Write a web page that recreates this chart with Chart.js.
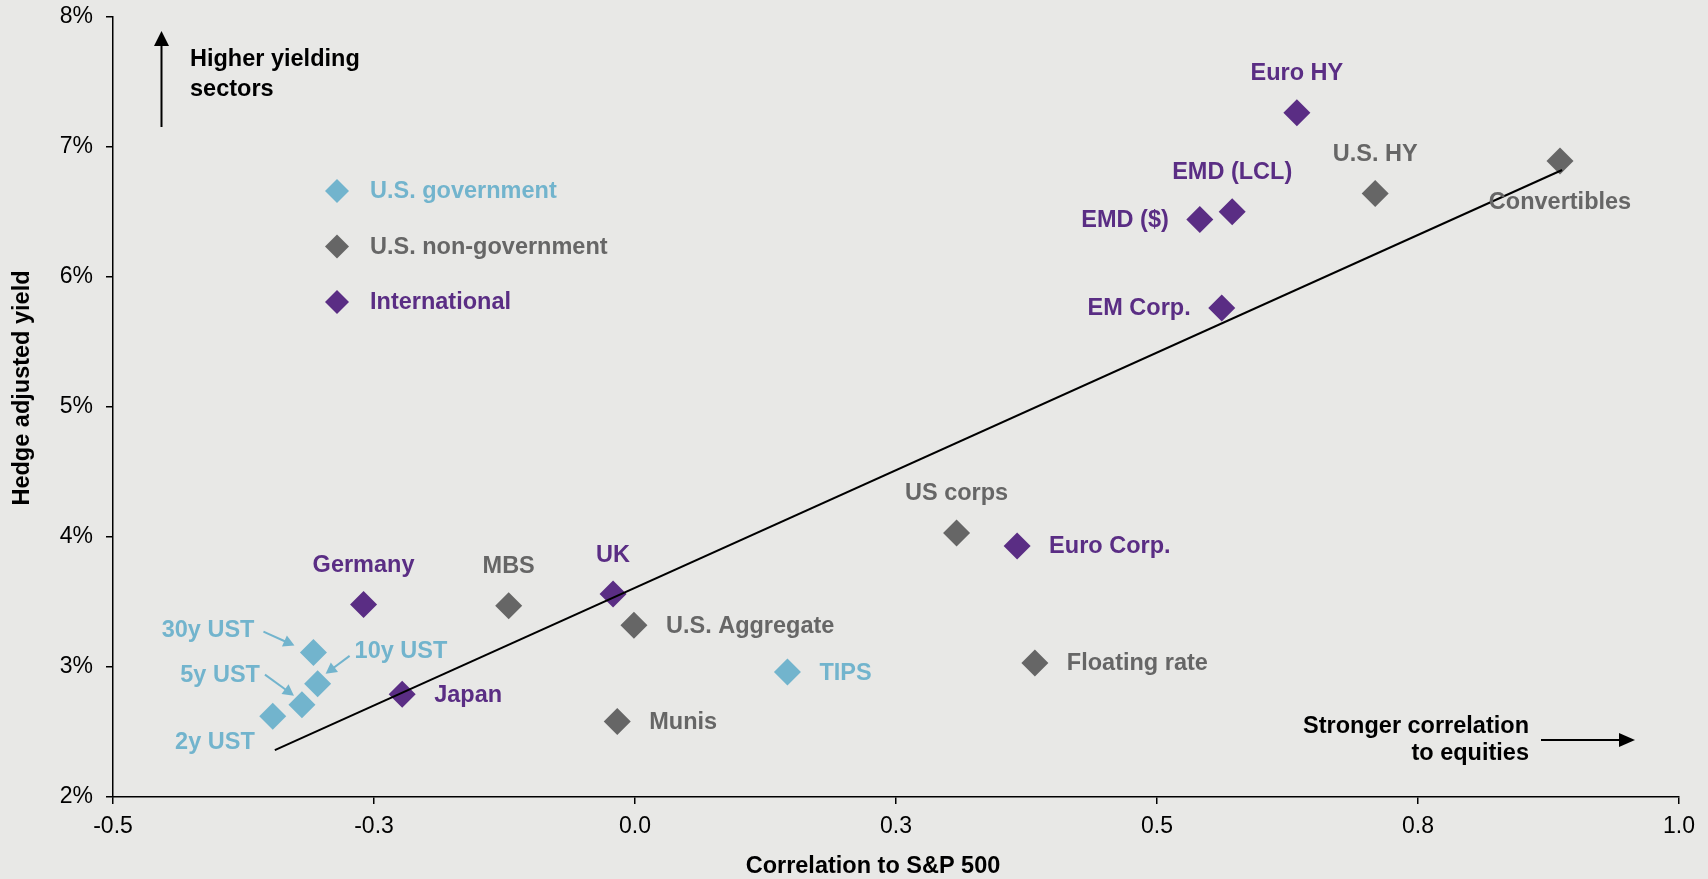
<!DOCTYPE html>
<html>
<head>
<meta charset="utf-8">
<script src="https://cdn.jsdelivr.net/npm/chart.js@4.4.1/dist/chart.umd.min.js"></script>
<style>
  html, body { margin: 0; padding: 0; background: #e8e8e6; }
  canvas { display: block; }
</style>
</head>
<body>
<canvas id="chart" width="1708" height="879"></canvas>
<script>
// sector data: correlation to S&P 500 vs hedge adjusted yield (%)
const govNames = ['30y UST', '10y UST', '5y UST', '2y UST', 'TIPS'];
const govCorr = [-0.308, -0.304, -0.319, -0.347, 0.146];
const govYield = [3.11, 2.87, 2.71, 2.62, 2.96];

const usNames = ['MBS', 'U.S. Aggregate', 'Munis', 'US corps', 'Floating rate', 'U.S. HY', 'Convertibles'];
const usCorr = [-0.121, -0.001, -0.017, 0.308, 0.383, 0.709, 0.886];
const usYield = [3.47, 3.32, 2.58, 4.03, 3.03, 6.64, 6.89];

const intlNames = ['Germany', 'Japan', 'UK', 'Euro Corp.', 'EM Corp.', 'EMD ($)', 'EMD (LCL)', 'Euro HY'];
const intlCorr = [-0.260, -0.223, -0.021, 0.366, 0.562, 0.541, 0.572, 0.634];
const intlYield = [3.48, 2.79, 3.56, 3.93, 5.76, 6.44, 6.50, 7.26];

const trendCorr = [-0.345, 0.888];
const trendYield = [2.36, 6.82];

const xTickLabels = ['-0.5', '-0.3', '0.0', '0.3', '0.5', '0.8', '1.0'];
const yTickLabels = ['2%', '3%', '4%', '5%', '6%', '7%', '8%'];

const seriesNames = ['U.S. government', 'U.S. non-government', 'International'];
const seriesColors = ['#72b4cd', '#666666', '#5a2d84'];

const FONT = "'Liberation Sans', Arial, sans-serif";

// where each point label sits, relative to its marker (px)
const TOP = { dx: 0, dy: -39, align: 'center' };
const LEFT = { dx: -31, dy: 1, align: 'right' };
const RIGHT = { dx: 32, dy: 1, align: 'left' };
const labelPos = {
  '30y UST': { dx: -59, dy: -22, align: 'right', arrow: [-50, -21, -19, -7] },
  '10y UST': { dx: 37, dy: -32, align: 'left', arrow: [32, -28, 8, -10] },
  '5y UST': { dx: -42, dy: -29, align: 'right', arrow: [-37, -30, -8, -9] },
  '2y UST': { dx: -18, dy: 26, align: 'right' },
  'TIPS': RIGHT,
  'MBS': TOP,
  'U.S. Aggregate': RIGHT,
  'Munis': RIGHT,
  'US corps': TOP,
  'Floating rate': RIGHT,
  'U.S. HY': TOP,
  'Convertibles': { dx: 0, dy: 42, align: 'center' },
  'Germany': TOP,
  'Japan': RIGHT,
  'UK': TOP,
  'Euro Corp.': RIGHT,
  'EM Corp.': LEFT,
  'EMD ($)': LEFT,
  'EMD (LCL)': TOP,
  'Euro HY': TOP
};

function toPoints(xs, ys) {
  return xs.map((x, i) => ({ x: x, y: ys[i] }));
}

function arrow(ctx, x1, y1, x2, y2, len, half) {
  const a = Math.atan2(y2 - y1, x2 - x1);
  ctx.beginPath();
  ctx.moveTo(x1, y1);
  ctx.lineTo(x2 - Math.cos(a) * len * 0.8, y2 - Math.sin(a) * len * 0.8);
  ctx.stroke();
  ctx.beginPath();
  ctx.moveTo(x2, y2);
  ctx.lineTo(x2 - Math.cos(a) * len + Math.sin(a) * half, y2 - Math.sin(a) * len - Math.cos(a) * half);
  ctx.lineTo(x2 - Math.cos(a) * len - Math.sin(a) * half, y2 - Math.sin(a) * len + Math.cos(a) * half);
  ctx.closePath();
  ctx.fill();
}

function diamond(ctx, x, y, r, color) {
  ctx.fillStyle = color;
  ctx.beginPath();
  ctx.moveTo(x, y - r);
  ctx.lineTo(x + r, y);
  ctx.lineTo(x, y + r);
  ctx.lineTo(x - r, y);
  ctx.closePath();
  ctx.fill();
}

const bgPlugin = {
  id: 'bg',
  beforeDraw(chart) {
    const ctx = chart.ctx;
    ctx.save();
    ctx.fillStyle = '#e8e8e6';
    ctx.fillRect(0, 0, chart.width, chart.height);
    ctx.restore();
  }
};

const annotPlugin = {
  id: 'annot',
  afterDatasetsDraw(chart) {
    const ctx = chart.ctx;
    ctx.save();
    ctx.font = 'bold 23.5px ' + FONT;
    ctx.textBaseline = 'middle';

    // point labels
    chart.data.datasets.forEach((ds, di) => {
      if (!ds.names) return;
      const meta = chart.getDatasetMeta(di);
      meta.data.forEach((pt, i) => {
        const name = ds.names[i];
        const p = labelPos[name] || RIGHT;
        ctx.fillStyle = ds.backgroundColor;
        ctx.strokeStyle = ds.backgroundColor;
        ctx.textAlign = p.align;
        ctx.fillText(name, pt.x + p.dx, pt.y + p.dy);
        if (p.arrow) {
          ctx.lineWidth = 2;
          arrow(ctx, pt.x + p.arrow[0], pt.y + p.arrow[1], pt.x + p.arrow[2], pt.y + p.arrow[3], 11, 6);
        }
      });
    });

    // legend
    seriesNames.forEach((name, i) => {
      const y = 191 + i * 55.5;
      diamond(ctx, 337, y, 12, seriesColors[i]);
      ctx.fillStyle = seriesColors[i];
      ctx.textAlign = 'left';
      ctx.fillText(name, 370, y + 1);
    });

    // direction notes
    ctx.fillStyle = '#000';
    ctx.strokeStyle = '#000';
    ctx.textBaseline = 'alphabetic';
    ctx.textAlign = 'left';
    ctx.fillText('Higher yielding', 190, 66);
    ctx.fillText('sectors', 190, 96);
    ctx.lineWidth = 2;
    arrow(ctx, 161.5, 127, 161.5, 31, 15, 7.5);

    ctx.textAlign = 'right';
    ctx.fillText('Stronger correlation', 1529, 733);
    ctx.fillText('to equities', 1529, 760);
    arrow(ctx, 1541, 740, 1635, 740, 16, 7);

    // axis titles
    ctx.textAlign = 'center';
    ctx.textBaseline = 'middle';
    ctx.fillText('Correlation to S&P 500', 873, 867);
    ctx.save();
    ctx.translate(23, 388);
    ctx.rotate(-Math.PI / 2);
    ctx.fillText('Hedge adjusted yield', 0, 0);
    ctx.restore();

    ctx.restore();
  }
};

const scatterStyle = (i) => ({
  backgroundColor: seriesColors[i],
  borderWidth: 0,
  pointStyle: 'rectRot',
  pointRadius: 13.5,
  pointHoverRadius: 13.5,
  order: 1
});

const axisGrid = { drawOnChartArea: false, drawTicks: true, tickLength: 7, color: '#000', lineWidth: 1.5 };
const axisBorder = { color: '#000', width: 1.5 };
const tickFont = { family: FONT, size: 23 };

new Chart(document.getElementById('chart'), {
  type: 'scatter',
  data: {
    datasets: [
      Object.assign({ label: seriesNames[0], names: govNames, data: toPoints(govCorr, govYield) }, scatterStyle(0)),
      Object.assign({ label: seriesNames[1], names: usNames, data: toPoints(usCorr, usYield) }, scatterStyle(1)),
      Object.assign({ label: seriesNames[2], names: intlNames, data: toPoints(intlCorr, intlYield) }, scatterStyle(2)),
      {
        label: 'Trend',
        data: toPoints(trendCorr, trendYield),
        showLine: true,
        borderColor: '#000',
        borderWidth: 2,
        pointRadius: 0,
        order: 0
      }
    ]
  },
  options: {
    responsive: false,
    animation: false,
    layout: { padding: { top: 16.5, right: 29, left: 0, bottom: 0 } },
    plugins: { legend: { display: false }, tooltip: { enabled: false } },
    scales: {
      x: {
        type: 'linear',
        min: -0.5,
        max: 1,
        afterFit: (s) => { s.height = 82; s.paddingLeft = 0; s.paddingRight = 0; },
        ticks: {
          stepSize: 0.25,
          autoSkip: false,
          maxRotation: 0,
          padding: 9,
          color: '#000',
          font: tickFont,
          callback: (v, i) => xTickLabels[i]
        },
        grid: axisGrid,
        border: axisBorder
      },
      y: {
        type: 'linear',
        min: 2,
        max: 8,
        afterFit: (s) => { s.width = 113; s.paddingTop = 0; s.paddingBottom = 0; },
        ticks: {
          stepSize: 1,
          padding: 13,
          color: '#000',
          font: tickFont,
          callback: (v, i) => yTickLabels[i]
        },
        grid: axisGrid,
        border: axisBorder
      }
    }
  },
  plugins: [bgPlugin, annotPlugin]
});
</script>
</body>
</html>
